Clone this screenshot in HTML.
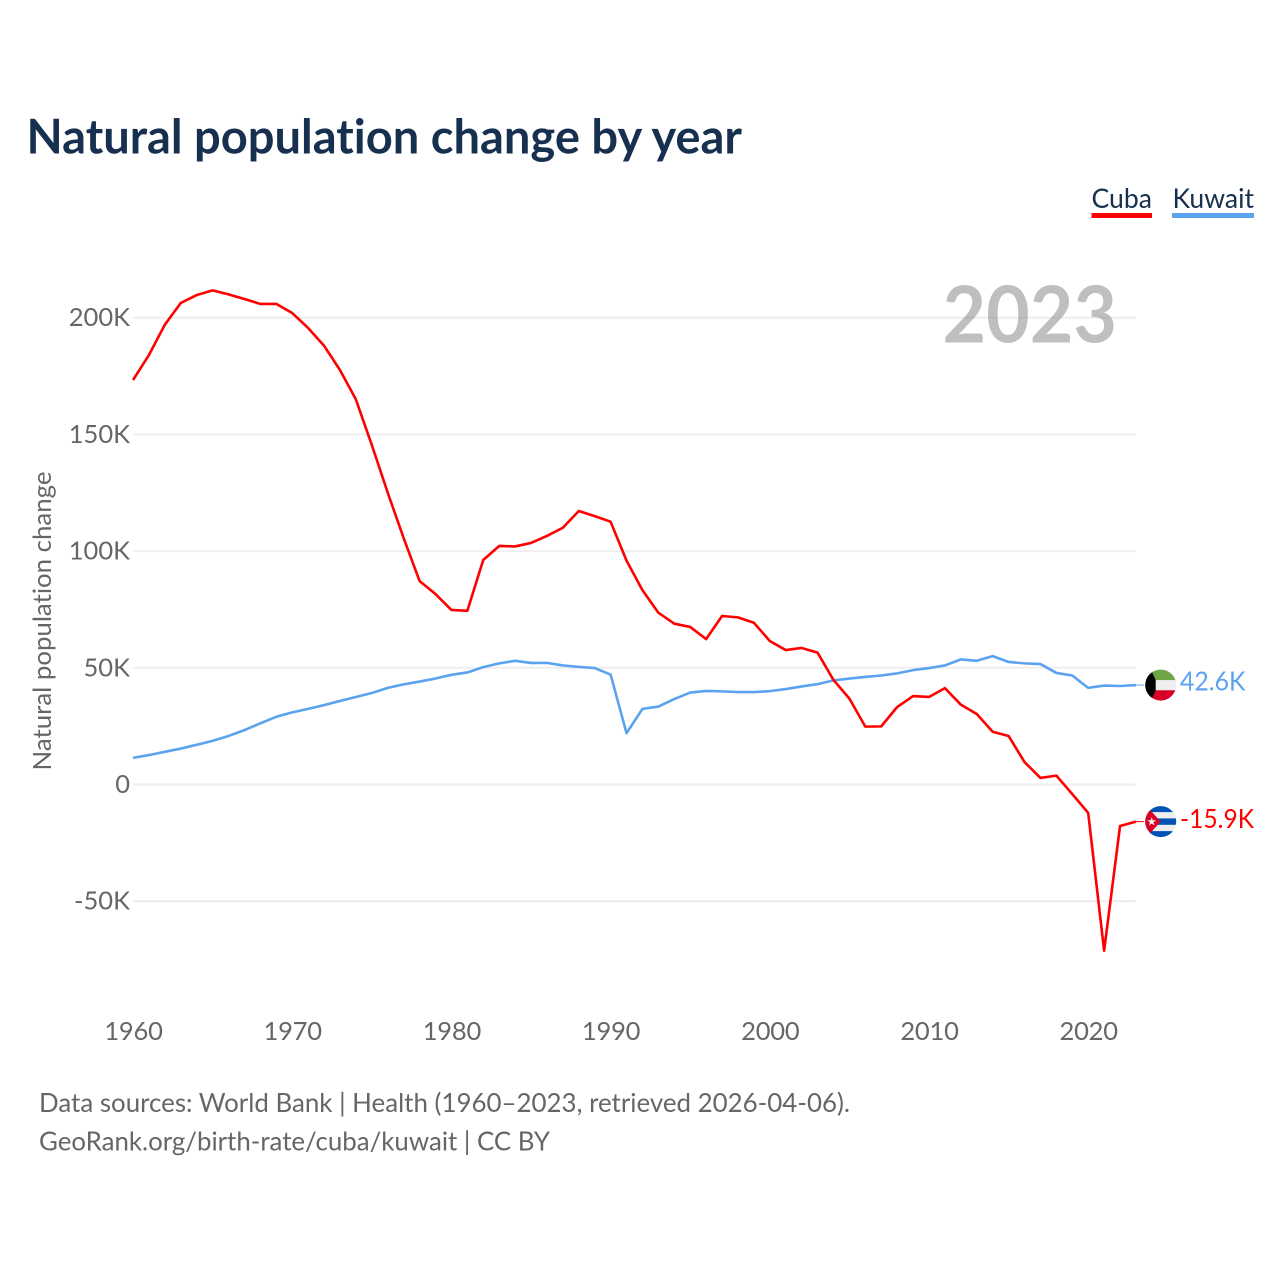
<!DOCTYPE html>
<html lang="en">
<head>
<meta charset="utf-8">
<title>Natural population change by year</title>
<style>
html,body{margin:0;padding:0;background:#fff;}
svg{display:block;}
text{font-family:"Lato","Carlito","Liberation Sans",sans-serif;font-variant-ligatures:none;}
.tick{font-size:25.5px;fill:#666;}
.xtick{letter-spacing:-.2px;}
.src{font-size:26.5px;fill:#666;}
</style>
</head>
<body>
<svg id="chart" xmlns="http://www.w3.org/2000/svg" width="1280" height="1280" viewBox="0 0 1280 1280">
  <rect width="1280" height="1280" fill="#fff"/>
  <text x="26.5" y="153.5" font-size="48" font-weight="700" fill="#17304f" textLength="715.5" lengthAdjust="spacingAndGlyphs">Natural population change by year</text>
  <g>
    <text x="1091.5" y="208" font-size="27" fill="#17304f" textLength="60.5" lengthAdjust="spacingAndGlyphs">Cuba</text>
    <rect x="1091.5" y="213" width="60.5" height="5" fill="#ff0000"/>
  </g>
  <g>
    <text x="1172.5" y="208" font-size="27" fill="#17304f" textLength="81.5" lengthAdjust="spacingAndGlyphs">Kuwait</text>
    <rect x="1172" y="213" width="82" height="5" fill="#5ba3ee"/>
  </g>
  <g id="grid"></g>
  <g id="yticks"></g>
  <g id="xticks"></g>
  <text transform="translate(51 621) rotate(-90)" text-anchor="middle" font-size="25" fill="#666" textLength="299" lengthAdjust="spacingAndGlyphs">Natural population change</text>
  <text id="yearLabel" x="942.5" y="342.5" font-size="79" font-weight="700" fill="#808080" fill-opacity=".5" textLength="174.5" lengthAdjust="spacingAndGlyphs"></text>
  <g id="series"></g>
  <g id="kuwaitFlag">
    <defs><clipPath id="flagClip"><circle cx="0" cy="0" r="15.5"/></clipPath></defs>
    <g clip-path="url(#flagClip)">
      <rect x="-16" y="-16" width="32" height="32" fill="#eeeeee"/>
      <rect x="-16" y="-16" width="32" height="11" fill="#6da544"/>
      <rect x="-16" y="5.2" width="32" height="11" fill="#d80027"/>
      <polygon points="-16,-16 -10,-16 -5,-5 -5,5.2 -10,16 -16,16" fill="#000"/>
    </g>
  </g>
  <g id="cubaFlag">
    <g clip-path="url(#flagClip)">
      <rect x="-16" y="-16" width="32" height="32" fill="#eeeeee"/>
      <rect x="-16" y="-16" width="32" height="6.5" fill="#0052b4"/>
      <rect x="-16" y="-3.2" width="32" height="6.4" fill="#0052b4"/>
      <rect x="-16" y="9.5" width="32" height="6.5" fill="#0052b4"/>
      <polygon points="-16,-16 -10,-11 0,0 -10,11 -16,16" fill="#d80027"/>
      <polygon points="-9,-4.5 -7.9,-1.3 -4.6,-1.3 -7.2,.7 -6.3,3.8 -9,2 -11.7,3.8 -10.8,.7 -13.4,-1.3 -10.1,-1.3" fill="#eeeeee"/>
    </g>
  </g>
  <text id="kuwaitValue" x="1180" font-size="26" fill="#5ba3ee" textLength="65.5" lengthAdjust="spacingAndGlyphs"></text>
  <text id="cubaValue" x="1180" font-size="26" fill="#ff0000" textLength="74" lengthAdjust="spacingAndGlyphs"></text>
  <text class="src" x="39" y="1112" textLength="811" lengthAdjust="spacingAndGlyphs">Data sources: World Bank | Health (1960–2023, retrieved 2026-04-06).</text>
  <text class="src" x="39" y="1150.5" textLength="511" lengthAdjust="spacingAndGlyphs">GeoRank.org/birth-rate/cuba/kuwait | CC BY</text>
</svg>
<script>
const startYear = 1960;
const xTickYears = [1960, 1970, 1980, 1990, 2000, 2010, 2020];
const yTickValues = [-50000, 0, 50000, 100000, 150000, 200000];
const yTickLabels = ["-50K", "0", "50K", "100K", "150K", "200K"];
const cubaValues = [173300,184000,197000,206300,209700,211700,210000,208000,205900,205900,202000,195600,188000,177600,165000,145500,125000,105600,87200,81600,74800,74400,96200,102200,102000,103500,106500,110000,117200,115000,112600,95900,83300,73600,68900,67500,62300,72200,71600,69300,61500,57600,58500,56500,44800,36800,24800,24900,33200,37900,37500,41300,34200,30200,22600,20800,9600,2800,3800,-4100,-12200,-71200,-17800,-15900];
const kuwaitValues = [11400,12600,14000,15400,17000,18700,20800,23300,26200,29000,30900,32400,34000,35800,37500,39200,41400,42900,44100,45400,47000,48000,50300,51900,53000,52100,52100,51000,50400,49900,47100,22000,32400,33400,36600,39400,40100,39900,39600,39600,40000,40900,42000,43000,44600,45400,46100,46700,47600,49000,49900,51000,53600,53000,55000,52500,51900,51600,47800,46700,41400,42400,42200,42600];

const NS = "http://www.w3.org/2000/svg";
function xScale(year){ return 133 + (year - 1960) * 15.92; }
function yScale(value){ return 784.5 - value * 0.002334; }
function formatK(value){ return (value / 1000).toFixed(1) + "K"; }
function linePath(values){
  return values.map(function(v, i){
    return (i ? "L" : "M") + xScale(startYear + i).toFixed(2) + " " + yScale(v).toFixed(2);
  }).join("");
}
const lastYear = startYear + cubaValues.length - 1;
const gridGroup = document.getElementById("grid");
const yGroup = document.getElementById("yticks");
const xGroup = document.getElementById("xticks");
const seriesGroup = document.getElementById("series");

yTickValues.forEach(function(v, i){
  const line = document.createElementNS(NS, "line");
  
  
  line.setAttribute("x1", xScale(startYear));
  line.setAttribute("x2", xScale(lastYear));
  line.setAttribute("y1", yScale(v));
  line.setAttribute("y2", yScale(v));
  line.setAttribute("stroke", "#eeeeee");
  line.setAttribute("stroke-width", "2");
  gridGroup.appendChild(line);
  const label = document.createElementNS(NS, "text");
  
  
  label.setAttribute("class", "tick");
  label.setAttribute("x", 130);
  label.setAttribute("y", yScale(v) + 8.5);
  label.setAttribute("text-anchor", "end");
  label.textContent = yTickLabels[i];
  yGroup.appendChild(label);
});

xTickYears.forEach(function(year){
  const label = document.createElementNS(NS, "text");
  
  
  label.setAttribute("class", "tick xtick");
  label.setAttribute("x", xScale(year) + 0.5);
  label.setAttribute("y", 1040);
  label.setAttribute("text-anchor", "middle");
  label.textContent = year;
  xGroup.appendChild(label);
});

function addConnector(values, color, name){
  const lastV = values[values.length - 1];
  const conn = document.createElementNS(NS, "line");
  
  
  conn.setAttribute("x1", xScale(lastYear));
  conn.setAttribute("x2", xScale(lastYear) + 8);
  conn.setAttribute("y1", yScale(lastV));
  conn.setAttribute("y2", yScale(lastV));
  conn.setAttribute("stroke", color);
  conn.setAttribute("stroke-width", "1");
  seriesGroup.appendChild(conn);
}
function addSeries(values, color, name){
  const path = document.createElementNS(NS, "path");
  
  
  path.setAttribute("d", linePath(values));
  path.setAttribute("fill", "none");
  path.setAttribute("stroke", color);
  path.setAttribute("stroke-width", "2.6");
  path.setAttribute("stroke-linejoin", "round");
  seriesGroup.appendChild(path);
}
addSeries(kuwaitValues, "#5ba3ee", "series-line-kuwait");
addSeries(cubaValues, "#ff0000", "series-line-cuba");
addConnector(kuwaitValues, "#5ba3ee", "connector-kuwait");
addConnector(cubaValues, "#ff0000", "connector-cuba");

document.getElementById("yearLabel").textContent = lastYear;
const kuwaitLast = kuwaitValues[kuwaitValues.length - 1];
const cubaLast = cubaValues[cubaValues.length - 1];
document.getElementById("kuwaitFlag").setAttribute("transform", "translate(1160.7 " + yScale(kuwaitLast) + ")");
document.getElementById("cubaFlag").setAttribute("transform", "translate(1160.7 " + yScale(cubaLast) + ")");
const kuwaitValueEl = document.getElementById("kuwaitValue");
kuwaitValueEl.setAttribute("y", yScale(kuwaitLast) + 5.5);
kuwaitValueEl.textContent = formatK(kuwaitLast);
const cubaValueEl = document.getElementById("cubaValue");
cubaValueEl.setAttribute("y", yScale(cubaLast) + 6.5);
cubaValueEl.textContent = formatK(cubaLast);
</script>
</body>
</html>
